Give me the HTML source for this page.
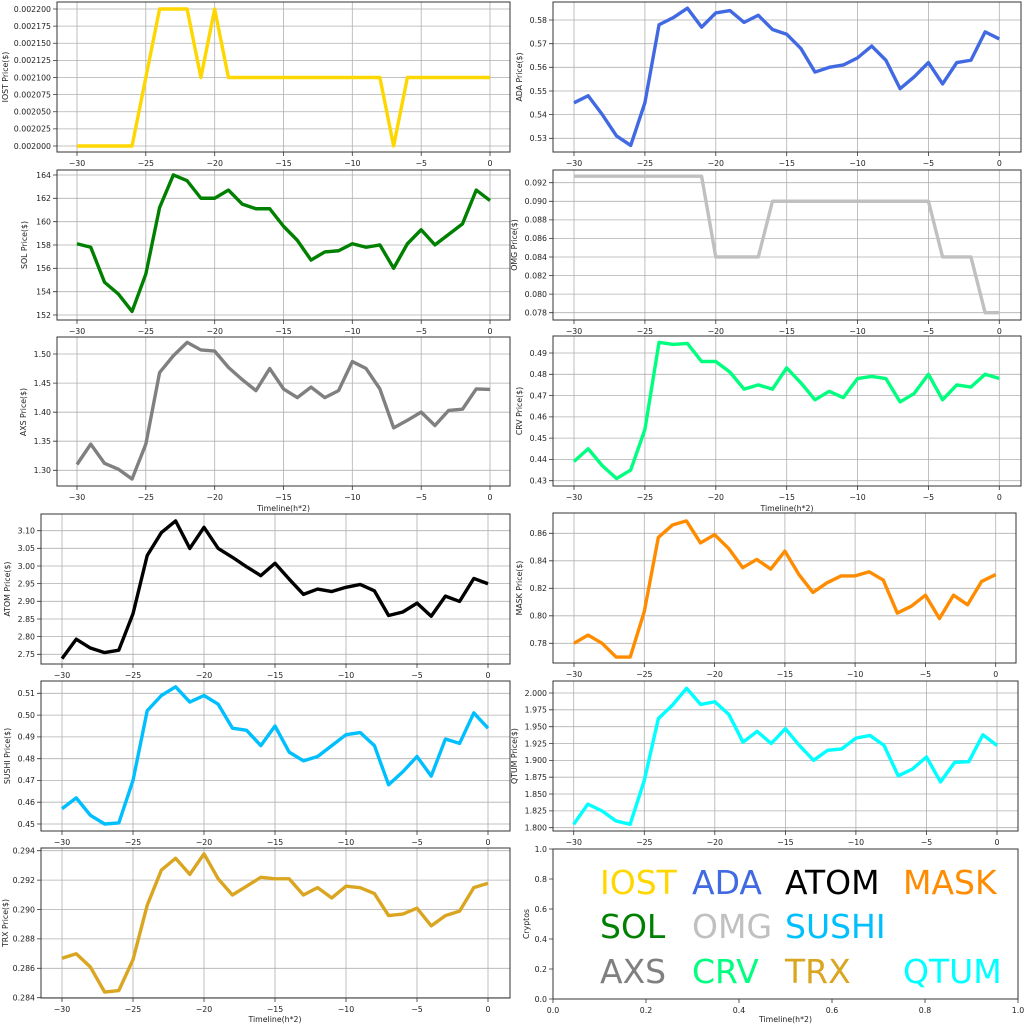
<!DOCTYPE html>
<html><head><meta charset="utf-8"><style>
html,body{margin:0;padding:0;background:#fff}
svg{display:block;font-family:"DejaVu Sans","Liberation Sans",sans-serif}
.g{stroke:#b0b0b0;stroke-width:0.8}
.sp{fill:none;stroke:#333;stroke-width:1}
.tk{stroke:#333;stroke-width:0.8}
.t{font-size:7.8px;fill:#222}
.l{font-size:7.8px;fill:#222}
.s{fill:none;stroke-width:3.4;stroke-linejoin:round;vector-effect:non-scaling-stroke}
.big{font-size:33px}
</style></head><body>
<svg width="1024" height="1024" viewBox="0 0 1024 1024" xmlns="http://www.w3.org/2000/svg">
<rect width="1024" height="1024" fill="#fff"/>

<!-- IOST -->
<g>
<path class="g" d="M77 2V152M145.8 2V152M214.7 2V152M283.5 2V152M352.3 2V152M421.2 2V152M490 2V152M57 146H510M57 128.9H510M57 111.75H510M57 94.6H510M57 77.5H510M57 60.4H510M57 43.25H510M57 26.1H510M57 9H510"/>
<path class="tk" d="M77 152v4M145.8 152v4M214.7 152v4M283.5 152v4M352.3 152v4M421.2 152v4M490 152v4M57 146h-4M57 128.9h-4M57 111.75h-4M57 94.6h-4M57 77.5h-4M57 60.4h-4M57 43.25h-4M57 26.1h-4M57 9h-4"/>
<g transform="translate(490,1516) scale(13.767,-685000)"><polyline class="s" stroke="#FFD700" points="-30,0.002 -29,0.002 -28,0.002 -27,0.002 -26,0.002 -25,0.0021 -24,0.0022 -23,0.0022 -22,0.0022 -21,0.0021 -20,0.0022 -19,0.0021 -18,0.0021 -17,0.0021 -16,0.0021 -15,0.0021 -14,0.0021 -13,0.0021 -12,0.0021 -11,0.0021 -10,0.0021 -9,0.0021 -8,0.0021 -7,0.002 -6,0.0021 -5,0.0021 -4,0.0021 -3,0.0021 -2,0.0021 -1,0.0021 0,0.0021"/></g>
<rect class="sp" x="57" y="2" width="453" height="150"/>
<g class="t" text-anchor="middle"><text x="77" y="166">−30</text><text x="145.8" y="166">−25</text><text x="214.7" y="166">−20</text><text x="283.5" y="166">−15</text><text x="352.3" y="166">−10</text><text x="421.2" y="166">−5</text><text x="490" y="166">0</text></g>
<g class="t" text-anchor="end"><text x="51" y="148.8">0.002000</text><text x="51" y="131.7">0.002025</text><text x="51" y="114.5">0.002050</text><text x="51" y="97.4">0.002075</text><text x="51" y="80.3">0.002100</text><text x="51" y="63.2">0.002125</text><text x="51" y="46">0.002150</text><text x="51" y="28.9">0.002175</text><text x="51" y="11.8">0.002200</text></g>
<text class="l" transform="translate(8,77) rotate(-90)" text-anchor="middle">IOST Price($)</text>
</g>

<!-- ADA -->
<g>
<path class="g" d="M574 2V152M644.9 2V152M715.8 2V152M786.7 2V152M857.5 2V152M928.4 2V152M999.3 2V152M553 138.3H1021M553 114.6H1021M553 91H1021M553 67.3H1021M553 43.7H1021M553 20H1021"/>
<path class="tk" d="M574 152v4M644.9 152v4M715.8 152v4M786.7 152v4M857.5 152v4M928.4 152v4M999.3 152v4M553 138.3h-4M553 114.6h-4M553 91h-4M553 67.3h-4M553 43.7h-4M553 20h-4"/>
<g transform="translate(999.3,1392.3) scale(14.177,-2366)"><polyline class="s" stroke="#4169E1" points="-30,0.545 -29,0.548 -28,0.540 -27,0.531 -26,0.527 -25,0.545 -24,0.578 -23,0.581 -22,0.585 -21,0.577 -20,0.583 -19,0.584 -18,0.579 -17,0.582 -16,0.576 -15,0.574 -14,0.568 -13,0.558 -12,0.560 -11,0.561 -10,0.564 -9,0.569 -8,0.563 -7,0.551 -6,0.556 -5,0.562 -4,0.553 -3,0.562 -2,0.563 -1,0.575 0,0.572"/></g>
<rect class="sp" x="553" y="2" width="468" height="150"/>
<g class="t" text-anchor="middle"><text x="574" y="166">−30</text><text x="644.9" y="166">−25</text><text x="715.8" y="166">−20</text><text x="786.7" y="166">−15</text><text x="857.5" y="166">−10</text><text x="928.4" y="166">−5</text><text x="999.3" y="166">0</text></g>
<g class="t" text-anchor="end"><text x="547" y="141.1">0.53</text><text x="547" y="117.4">0.54</text><text x="547" y="93.8">0.55</text><text x="547" y="70.1">0.56</text><text x="547" y="46.5">0.57</text><text x="547" y="22.8">0.58</text></g>
<text class="l" transform="translate(522,77) rotate(-90)" text-anchor="middle">ADA  Price($)</text>
</g>

<!-- SOL -->
<g>
<path class="g" d="M77 170V320M145.8 170V320M214.7 170V320M283.5 170V320M352.3 170V320M421.2 170V320M490 170V320M57 315H510M57 291.7H510M57 268.3H510M57 245H510M57 221.7H510M57 198.3H510M57 175H510"/>
<path class="tk" d="M77 320v4M145.8 320v4M214.7 320v4M283.5 320v4M352.3 320v4M421.2 320v4M490 320v4M57 315h-4M57 291.7h-4M57 268.3h-4M57 245h-4M57 221.7h-4M57 198.3h-4M57 175h-4"/>
<g transform="translate(490,2088.3) scale(13.767,-11.667)"><polyline class="s" stroke="#008000" points="-30,158.1 -29,157.8 -28,154.8 -27,153.8 -26,152.3 -25,155.5 -24,161.2 -23,164.0 -22,163.5 -21,162.0 -20,162.0 -19,162.7 -18,161.5 -17,161.1 -16,161.1 -15,159.6 -14,158.4 -13,156.7 -12,157.4 -11,157.5 -10,158.1 -9,157.8 -8,158.0 -7,156.0 -6,158.1 -5,159.3 -4,158.0 -3,158.9 -2,159.8 -1,162.7 0,161.8"/></g>
<rect class="sp" x="57" y="170" width="453" height="150"/>
<g class="t" text-anchor="middle"><text x="77" y="334">−30</text><text x="145.8" y="334">−25</text><text x="214.7" y="334">−20</text><text x="283.5" y="334">−15</text><text x="352.3" y="334">−10</text><text x="421.2" y="334">−5</text><text x="490" y="334">0</text></g>
<g class="t" text-anchor="end"><text x="51" y="317.8">152</text><text x="51" y="294.5">154</text><text x="51" y="271.1">156</text><text x="51" y="247.8">158</text><text x="51" y="224.5">160</text><text x="51" y="201.1">162</text><text x="51" y="177.8">164</text></g>
<text class="l" transform="translate(27,245) rotate(-90)" text-anchor="middle">SOL Price($)</text>
</g>

<!-- OMG -->
<g>
<path class="g" d="M574 170V320M644.9 170V320M715.8 170V320M786.7 170V320M857.5 170V320M928.4 170V320M999.3 170V320M553 312.7H1021M553 294.1H1021M553 275.6H1021M553 257H1021M553 238.4H1021M553 219.9H1021M553 201.3H1021M553 182.7H1021"/>
<path class="tk" d="M574 320v4M644.9 320v4M715.8 320v4M786.7 320v4M857.5 320v4M928.4 320v4M999.3 320v4M553 312.7h-4M553 294.1h-4M553 275.6h-4M553 257h-4M553 238.4h-4M553 219.9h-4M553 201.3h-4M553 182.7h-4"/>
<g transform="translate(999.3,1037) scale(14.177,-9286)"><polyline class="s" stroke="#C0C0C0" points="-30,0.0927 -21,0.0927 -20,0.084 -17,0.084 -16,0.090 -5,0.090 -4,0.084 -2,0.084 -1,0.078 0,0.078"/></g>
<rect class="sp" x="553" y="170" width="468" height="150"/>
<g class="t" text-anchor="middle"><text x="574" y="334">−30</text><text x="644.9" y="334">−25</text><text x="715.8" y="334">−20</text><text x="786.7" y="334">−15</text><text x="857.5" y="334">−10</text><text x="928.4" y="334">−5</text><text x="999.3" y="334">0</text></g>
<g class="t" text-anchor="end"><text x="547" y="315.5">0.078</text><text x="547" y="296.9">0.080</text><text x="547" y="278.4">0.082</text><text x="547" y="259.8">0.084</text><text x="547" y="241.2">0.086</text><text x="547" y="222.7">0.088</text><text x="547" y="204.1">0.090</text><text x="547" y="185.5">0.092</text></g>
<text class="l" transform="translate(517,245) rotate(-90)" text-anchor="middle">OMG  Price($)</text>
</g>

<!-- AXS -->
<g>
<path class="g" d="M77 337V486M145.8 337V486M214.7 337V486M283.5 337V486M352.3 337V486M421.2 337V486M490 337V486M57 470.3H510M57 441.2H510M57 412.2H510M57 383.1H510M57 354H510"/>
<path class="tk" d="M77 486v4M145.8 486v4M214.7 486v4M283.5 486v4M352.3 486v4M421.2 486v4M490 486v4M57 470.3h-4M57 441.2h-4M57 412.2h-4M57 383.1h-4M57 354h-4"/>
<g transform="translate(490,1226.25) scale(13.767,-581.5)"><polyline class="s" stroke="#808080" points="-30,1.31 -29,1.345 -28,1.312 -27,1.302 -26,1.285 -25,1.345 -24,1.468 -23,1.497 -22,1.520 -21,1.507 -20,1.505 -19,1.477 -18,1.456 -17,1.437 -16,1.475 -15,1.440 -14,1.425 -13,1.443 -12,1.425 -11,1.437 -10,1.487 -9,1.475 -8,1.440 -7,1.373 -6,1.386 -5,1.400 -4,1.377 -3,1.403 -2,1.405 -1,1.440 0,1.439"/></g>
<rect class="sp" x="57" y="337" width="453" height="149"/>
<g class="t" text-anchor="middle"><text x="77" y="500">−30</text><text x="145.8" y="500">−25</text><text x="214.7" y="500">−20</text><text x="283.5" y="500">−15</text><text x="352.3" y="500">−10</text><text x="421.2" y="500">−5</text><text x="490" y="500">0</text></g>
<g class="t" text-anchor="end"><text x="51" y="473.1">1.30</text><text x="51" y="444">1.35</text><text x="51" y="415">1.40</text><text x="51" y="385.9">1.45</text><text x="51" y="356.8">1.50</text></g>
<text class="l" transform="translate(26,412) rotate(-90)" text-anchor="middle">AXS Price($)</text>
<text class="l" x="283.5" y="511" text-anchor="middle">Timeline(h*2)</text>
</g>

<!-- CRV -->
<g>
<path class="g" d="M574 336V486M644.9 336V486M715.8 336V486M786.7 336V486M857.5 336V486M928.4 336V486M999.3 336V486M553 480.7H1021M553 459.4H1021M553 438.1H1021M553 416.9H1021M553 395.6H1021M553 374.3H1021M553 353H1021"/>
<path class="tk" d="M574 486v4M644.9 486v4M715.8 486v4M786.7 486v4M857.5 486v4M928.4 486v4M999.3 486v4M553 480.7h-4M553 459.4h-4M553 438.1h-4M553 416.9h-4M553 395.6h-4M553 374.3h-4M553 353h-4"/>
<g transform="translate(999.3,1395.7) scale(14.177,-2128)"><polyline class="s" stroke="#00FF7F" points="-30,0.439 -29,0.445 -28,0.437 -27,0.431 -26,0.435 -25,0.454 -24,0.495 -23,0.494 -22,0.4945 -21,0.486 -20,0.486 -19,0.481 -18,0.473 -17,0.475 -16,0.473 -15,0.483 -14,0.476 -13,0.468 -12,0.472 -11,0.469 -10,0.478 -9,0.479 -8,0.478 -7,0.467 -6,0.471 -5,0.480 -4,0.468 -3,0.475 -2,0.474 -1,0.480 0,0.478"/></g>
<rect class="sp" x="553" y="336" width="468" height="150"/>
<g class="t" text-anchor="middle"><text x="574" y="500">−30</text><text x="644.9" y="500">−25</text><text x="715.8" y="500">−20</text><text x="786.7" y="500">−15</text><text x="857.5" y="500">−10</text><text x="928.4" y="500">−5</text><text x="999.3" y="500">0</text></g>
<g class="t" text-anchor="end"><text x="547" y="483.5">0.43</text><text x="547" y="462.2">0.44</text><text x="547" y="440.9">0.45</text><text x="547" y="419.7">0.46</text><text x="547" y="398.4">0.47</text><text x="547" y="377.1">0.48</text><text x="547" y="355.8">0.49</text></g>
<text class="l" transform="translate(522,411) rotate(-90)" text-anchor="middle">CRV  Price($)</text>
<text class="l" x="787" y="511" text-anchor="middle">Timeline(h*2)</text>
</g>

<!-- ATOM -->
<g>
<path class="g" d="M62 514V664M133 514V664M204 514V664M275 514V664M346 514V664M417 514V664M488 514V664M41 654.3H510M41 636.6H510M41 619H510M41 601.3H510M41 583.6H510M41 566H510M41 548.3H510M41 530.7H510"/>
<path class="tk" d="M62 664v4M133 664v4M204 664v4M275 664v4M346 664v4M417 664v4M488 664v4M41 654.3h-4M41 636.6h-4M41 619h-4M41 601.3h-4M41 583.6h-4M41 566h-4M41 548.3h-4M41 530.7h-4"/>
<g transform="translate(488,1625.4) scale(14.2,-353.1)"><polyline class="s" stroke="#000" points="-30,2.738 -29,2.793 -28,2.768 -27,2.755 -26,2.762 -25,2.865 -24,3.03 -23,3.095 -22,3.128 -21,3.05 -20,3.11 -19,3.05 -18,3.025 -17,2.998 -16,2.973 -15,3.008 -14,2.963 -13,2.92 -12,2.935 -11,2.928 -10,2.94 -9,2.948 -8,2.93 -7,2.86 -6,2.87 -5,2.895 -4,2.858 -3,2.915 -2,2.9 -1,2.965 0,2.95"/></g>
<rect class="sp" x="41" y="514" width="469" height="150"/>
<g class="t" text-anchor="middle"><text x="62" y="678">−30</text><text x="133" y="678">−25</text><text x="204" y="678">−20</text><text x="275" y="678">−15</text><text x="346" y="678">−10</text><text x="417" y="678">−5</text><text x="488" y="678">0</text></g>
<g class="t" text-anchor="end"><text x="35" y="657.1">2.75</text><text x="35" y="639.4">2.80</text><text x="35" y="621.8">2.85</text><text x="35" y="604.1">2.90</text><text x="35" y="586.4">2.95</text><text x="35" y="568.8">3.00</text><text x="35" y="551.1">3.05</text><text x="35" y="533.5">3.10</text></g>
<text class="l" transform="translate(10,589) rotate(-90)" text-anchor="middle">ATOM  Price($)</text>
</g>

<!-- MASK -->
<g>
<path class="g" d="M574 513V663M644.3 513V663M714.6 513V663M784.9 513V663M855.1 513V663M925.4 513V663M995.7 513V663M553 643.3H1016M553 615.8H1016M553 588.3H1016M553 560.8H1016M553 533.3H1016"/>
<path class="tk" d="M574 663v4M644.3 663v4M714.6 663v4M784.9 663v4M855.1 663v4M925.4 663v4M995.7 663v4M553 643.3h-4M553 615.8h-4M553 588.3h-4M553 560.8h-4M553 533.3h-4"/>
<g transform="translate(995.7,1715.8) scale(14.057,-1375)"><polyline class="s" stroke="#FF8C00" points="-30,0.780 -29,0.786 -28,0.780 -27,0.770 -26,0.770 -25,0.803 -24,0.857 -23,0.866 -22,0.869 -21,0.853 -20,0.859 -19,0.849 -18,0.835 -17,0.841 -16,0.834 -15,0.847 -14,0.830 -13,0.817 -12,0.824 -11,0.829 -10,0.829 -9,0.832 -8,0.826 -7,0.802 -6,0.807 -5,0.815 -4,0.798 -3,0.815 -2,0.808 -1,0.825 0,0.830"/></g>
<rect class="sp" x="553" y="513" width="463" height="150"/>
<g class="t" text-anchor="middle"><text x="574" y="677">−30</text><text x="644.3" y="677">−25</text><text x="714.6" y="677">−20</text><text x="784.9" y="677">−15</text><text x="855.1" y="677">−10</text><text x="925.4" y="677">−5</text><text x="995.7" y="677">0</text></g>
<g class="t" text-anchor="end"><text x="547" y="646.1">0.78</text><text x="547" y="618.6">0.80</text><text x="547" y="591.1">0.82</text><text x="547" y="563.6">0.84</text><text x="547" y="536.1">0.86</text></g>
<text class="l" transform="translate(522,588) rotate(-90)" text-anchor="middle">MASK  Price($)</text>
</g>

<!-- SUSHI -->
<g>
<path class="g" d="M62 681V831M133 681V831M204 681V831M275 681V831M346 681V831M417 681V831M488 681V831M41 824H510M41 802.2H510M41 780.4H510M41 758.7H510M41 736.9H510M41 715.1H510M41 693.3H510"/>
<path class="tk" d="M62 831v4M133 831v4M204 831v4M275 831v4M346 831v4M417 831v4M488 831v4M41 824h-4M41 802.2h-4M41 780.4h-4M41 758.7h-4M41 736.9h-4M41 715.1h-4M41 693.3h-4"/>
<g transform="translate(488,1804.1) scale(14.2,-2178)"><polyline class="s" stroke="#00BFFF" points="-30,0.457 -29,0.462 -28,0.454 -27,0.450 -26,0.4505 -25,0.470 -24,0.502 -23,0.509 -22,0.513 -21,0.506 -20,0.509 -19,0.505 -18,0.494 -17,0.493 -16,0.486 -15,0.495 -14,0.483 -13,0.479 -12,0.481 -11,0.486 -10,0.491 -9,0.492 -8,0.486 -7,0.468 -6,0.474 -5,0.481 -4,0.472 -3,0.489 -2,0.487 -1,0.501 0,0.494"/></g>
<rect class="sp" x="41" y="681" width="469" height="150"/>
<g class="t" text-anchor="middle"><text x="62" y="845">−30</text><text x="133" y="845">−25</text><text x="204" y="845">−20</text><text x="275" y="845">−15</text><text x="346" y="845">−10</text><text x="417" y="845">−5</text><text x="488" y="845">0</text></g>
<g class="t" text-anchor="end"><text x="35" y="826.8">0.45</text><text x="35" y="805">0.46</text><text x="35" y="783.2">0.47</text><text x="35" y="761.5">0.48</text><text x="35" y="739.7">0.49</text><text x="35" y="717.9">0.50</text><text x="35" y="696.1">0.51</text></g>
<text class="l" transform="translate(10,756) rotate(-90)" text-anchor="middle">SUSHI  Price($)</text>
</g>

<!-- QTUM -->
<g>
<path class="g" d="M573.7 681V831M644.3 681V831M714.8 681V831M785.4 681V831M855.9 681V831M926.5 681V831M997 681V831M553 827.7H1018M553 810.9H1018M553 794H1018M553 777.2H1018M553 760.4H1018M553 743.5H1018M553 726.7H1018M553 709.8H1018M553 693H1018"/>
<path class="tk" d="M573.7 831v4M644.3 831v4M714.8 831v4M785.4 831v4M855.9 831v4M926.5 831v4M997 831v4M553 827.7h-4M553 810.9h-4M553 794h-4M553 777.2h-4M553 760.4h-4M553 743.5h-4M553 726.7h-4M553 709.8h-4M553 693h-4"/>
<g transform="translate(997,2040) scale(14.11,-673.5)"><polyline class="s" stroke="#00FFFF" points="-30,1.805 -29,1.835 -28,1.825 -27,1.810 -26,1.805 -25,1.870 -24,1.962 -23,1.982 -22,2.007 -21,1.983 -20,1.987 -19,1.968 -18,1.927 -17,1.943 -16,1.925 -15,1.947 -14,1.922 -13,1.900 -12,1.915 -11,1.917 -10,1.933 -9,1.937 -8,1.922 -7,1.877 -6,1.887 -5,1.905 -4,1.868 -3,1.897 -2,1.898 -1,1.938 0,1.922"/></g>
<rect class="sp" x="553" y="681" width="465" height="150"/>
<g class="t" text-anchor="middle"><text x="573.7" y="845">−30</text><text x="644.3" y="845">−25</text><text x="714.8" y="845">−20</text><text x="785.4" y="845">−15</text><text x="855.9" y="845">−10</text><text x="926.5" y="845">−5</text><text x="997" y="845">0</text></g>
<g class="t" text-anchor="end"><text x="547" y="830.5">1.800</text><text x="547" y="813.7">1.825</text><text x="547" y="796.8">1.850</text><text x="547" y="780">1.875</text><text x="547" y="763.2">1.900</text><text x="547" y="746.3">1.925</text><text x="547" y="729.5">1.950</text><text x="547" y="712.6">1.975</text><text x="547" y="695.8">2.000</text></g>
<text class="l" transform="translate(517,756) rotate(-90)" text-anchor="middle">QTUM Price($)</text>
</g>

<!-- TRX -->
<g>
<path class="g" d="M62 848V998M133 848V998M204 848V998M275 848V998M346 848V998M417 848V998M488 848V998M41 997.7H510M41 968.3H510M41 938.9H510M41 909.5H510M41 880.1H510M41 850.7H510"/>
<path class="tk" d="M62 998v4M133 998v4M204 998v4M275 998v4M346 998v4M417 998v4M488 998v4M41 997.7h-4M41 968.3h-4M41 938.9h-4M41 909.5h-4M41 880.1h-4M41 850.7h-4"/>
<g transform="translate(488,5172.7) scale(14.2,-14700)"><polyline class="s" stroke="#DAA520" points="-30,0.2867 -29,0.2870 -28,0.2861 -27,0.2844 -26,0.2845 -25,0.2866 -24,0.2903 -23,0.2927 -22,0.2935 -21,0.2924 -20,0.2938 -19,0.2921 -18,0.2910 -17,0.2916 -16,0.2922 -15,0.2921 -14,0.2921 -13,0.2910 -12,0.2915 -11,0.2908 -10,0.2916 -9,0.2915 -8,0.2911 -7,0.2896 -6,0.2897 -5,0.2901 -4,0.2889 -3,0.2896 -2,0.2899 -1,0.2915 0,0.2918"/></g>
<rect class="sp" x="41" y="848" width="469" height="150"/>
<g class="t" text-anchor="middle"><text x="62" y="1012">−30</text><text x="133" y="1012">−25</text><text x="204" y="1012">−20</text><text x="275" y="1012">−15</text><text x="346" y="1012">−10</text><text x="417" y="1012">−5</text><text x="488" y="1012">0</text></g>
<g class="t" text-anchor="end"><text x="35" y="1000.5">0.284</text><text x="35" y="971.1">0.286</text><text x="35" y="941.7">0.288</text><text x="35" y="912.3">0.290</text><text x="35" y="882.9">0.292</text><text x="35" y="853.5">0.294</text></g>
<text class="l" transform="translate(8,923) rotate(-90)" text-anchor="middle">TRX Price($)</text>
<text class="l" x="275" y="1022" text-anchor="middle">Timeline(h*2)</text>
</g>

<!-- Legend panel -->
<g>
<rect class="sp" x="553" y="849" width="465" height="150"/>
<path class="tk" d="M553 999v4M646 999v4M739 999v4M832 999v4M925 999v4M1018 999v4M553 999h-4M553 969h-4M553 939h-4M553 909h-4M553 879h-4M553 849h-4"/>
<g class="t" text-anchor="middle"><text x="553" y="1013">0.0</text><text x="646" y="1013">0.2</text><text x="739" y="1013">0.4</text><text x="832" y="1013">0.6</text><text x="925" y="1013">0.8</text><text x="1018" y="1013">1.0</text></g>
<g class="t" text-anchor="end"><text x="547" y="1001.8">0.0</text><text x="547" y="971.8">0.2</text><text x="547" y="941.8">0.4</text><text x="547" y="911.8">0.6</text><text x="547" y="881.8">0.8</text><text x="547" y="851.8">1.0</text></g>
<text class="l" transform="translate(529,924) rotate(-90)" text-anchor="middle">Cryptos</text>
<text class="l" x="785.5" y="1022" text-anchor="middle">Timeline(h*2)</text>
<g class="big">
<text x="600" y="894" fill="#FFD700">IOST</text>
<text x="692" y="894" fill="#4169E1">ADA</text>
<text x="785" y="894" fill="#000">ATOM</text>
<text x="903" y="894" fill="#FF8C00">MASK</text>
<text x="600" y="938" fill="#008000">SOL</text>
<text x="692" y="938" fill="#C0C0C0">OMG</text>
<text x="785" y="938" fill="#00BFFF">SUSHI</text>
<text x="600" y="983" fill="#808080">AXS</text>
<text x="692" y="983" fill="#00FF7F">CRV</text>
<text x="785" y="983" fill="#DAA520">TRX</text>
<text x="903" y="983" fill="#00FFFF">QTUM</text>
</g>
</g>
</svg>
</body></html>
